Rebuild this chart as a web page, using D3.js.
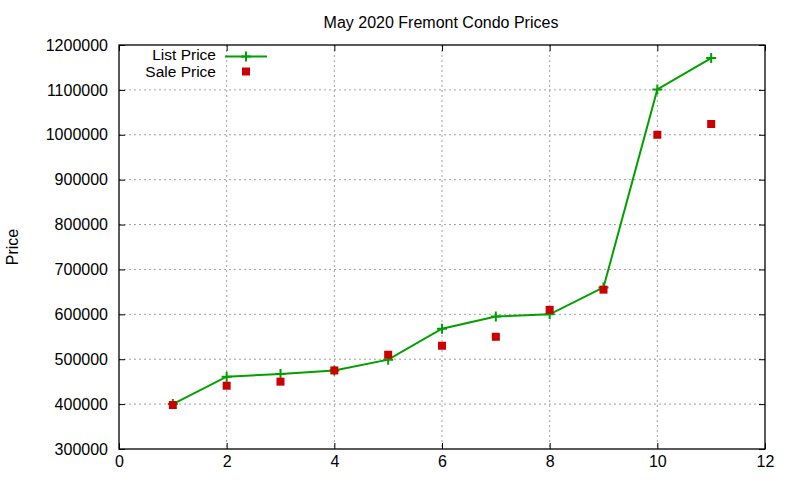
<!DOCTYPE html>
<html>
<head>
<meta charset="utf-8">
<script src="https://cdn.jsdelivr.net/npm/d3@7"></script>
<style>
body { margin: 0; background: #fff; }
text { font-family: "Liberation Sans", Arial, sans-serif; fill: #000; }
</style>
</head>
<body>
<div id="chart"></div>
<script>
// data
var units = [1, 2, 3, 4, 5, 6, 7, 8, 9, 10, 11];
var listPrice = [400000, 461000, 467000, 475000, 499000, 568000, 595000, 600000, 660000, 1101000, 1171000];
var salePrice = [398000, 441000, 450000, 475000, 510000, 530000, 550000, 610000, 655000, 1000000, 1024000];
var xTicks = [0, 2, 4, 6, 8, 10, 12];
var yTicks = [300000, 400000, 500000, 600000, 700000, 800000, 900000, 1000000, 1100000, 1200000];

var margin = {left: 119, right: 35, top: 45, bottom: 31};
var W = 800, H = 480;
var w = W - margin.left - margin.right;
var h = H - margin.top - margin.bottom;

var svg = d3.select("#chart").append("svg")
	.attr("width", W)
	.attr("height", H);

var g = svg.append("g")
	.attr("transform", "translate(" + margin.left + "," + margin.top + ")");

var x = d3.scaleLinear().domain([0, 12]).range([0, w]);
var y = d3.scaleLinear().domain([300000, 1200000]).range([h, 0]);

// grid
g.selectAll("line.gx")
	.data(xTicks.slice(1, -1))
	.enter().append("line")
	.attr("x1", function(d) { return x(d); })
	.attr("x2", function(d) { return x(d); })
	.attr("y1", 0).attr("y2", h)
	.attr("stroke", "#a0a0a0").attr("stroke-width", 1)
	.attr("stroke-dasharray", "2,3");
g.selectAll("line.gy")
	.data(yTicks.slice(1, -1))
	.enter().append("line")
	.attr("y1", function(d) { return y(d); })
	.attr("y2", function(d) { return y(d); })
	.attr("x1", 0).attr("x2", w)
	.attr("stroke", "#a0a0a0").attr("stroke-width", 1)
	.attr("stroke-dasharray", "2,3");

// axes, gnuplot style: ticks point inward, mirrored
function styleAxis(sel) {
	sel.select(".domain").remove();
	sel.selectAll("text").style("font-size", "16px").style("font-family", "Liberation Sans, Arial, sans-serif");
	sel.selectAll("line").attr("stroke", "#000");
}
g.append("g").attr("transform", "translate(0," + h + ")")
	.call(d3.axisBottom(x).tickValues(xTicks).tickSize(-6).tickPadding(7))
	.call(styleAxis);
g.append("g")
	.call(d3.axisTop(x).tickValues(xTicks).tickSize(-6).tickFormat(""))
	.call(styleAxis);
g.append("g")
	.call(d3.axisLeft(y).tickValues(yTicks).tickSize(-6).tickPadding(11).tickFormat(d3.format("d")))
	.call(styleAxis);
g.append("g").attr("transform", "translate(" + w + ",0)")
	.call(d3.axisRight(y).tickValues(yTicks).tickSize(-6).tickFormat(""))
	.call(styleAxis);

g.append("rect")
	.attr("width", w).attr("height", h)
	.attr("fill", "none").attr("stroke", "#000").attr("stroke-width", 1.3);

// list price line
var line = d3.line()
	.x(function(d, i) { return x(units[i]); })
	.y(function(d) { return y(d); });
g.append("path")
	.datum(listPrice)
	.attr("d", line)
	.attr("fill", "none")
	.attr("stroke", "#00a000")
	.attr("stroke-width", 2);

function plus(sel, cx, cy) {
	sel.append("path")
		.attr("d", "M" + (cx - 5) + "," + cy + "H" + (cx + 5) + "M" + cx + "," + (cy - 5) + "V" + (cy + 5))
		.attr("stroke", "#00a000").attr("stroke-width", 2);
}
listPrice.forEach(function(d, i) { plus(g, x(units[i]), y(d)); });

// sale price points
g.selectAll("rect.sale")
	.data(salePrice)
	.enter().append("rect")
	.attr("x", function(d, i) { return x(units[i]) - 4; })
	.attr("y", function(d) { return y(d) - 4; })
	.attr("width", 8).attr("height", 8)
	.attr("fill", "#cc0000");

// legend
var leg = svg.append("g");
leg.append("text").attr("x", 216).attr("y", 60).attr("text-anchor", "end")
	.style("font-size", "15.5px").text("List Price");
leg.append("line").attr("x1", 225).attr("x2", 267).attr("y1", 56.5).attr("y2", 56.5)
	.attr("stroke", "#00a000").attr("stroke-width", 2);
plus(leg, 246, 56.5);
leg.append("text").attr("x", 216).attr("y", 77).attr("text-anchor", "end")
	.style("font-size", "15.5px").text("Sale Price");
leg.append("rect").attr("x", 242).attr("y", 67.5).attr("width", 8).attr("height", 8)
	.attr("fill", "#cc0000");

// title and y label
svg.append("text").attr("x", 441).attr("y", 28).attr("text-anchor", "middle")
	.style("font-size", "16px").text("May 2020 Fremont Condo Prices");
svg.append("text")
	.attr("transform", "translate(18,247) rotate(-90)")
	.attr("text-anchor", "middle")
	.style("font-size", "16px").text("Price");
</script>
</body>
</html>
